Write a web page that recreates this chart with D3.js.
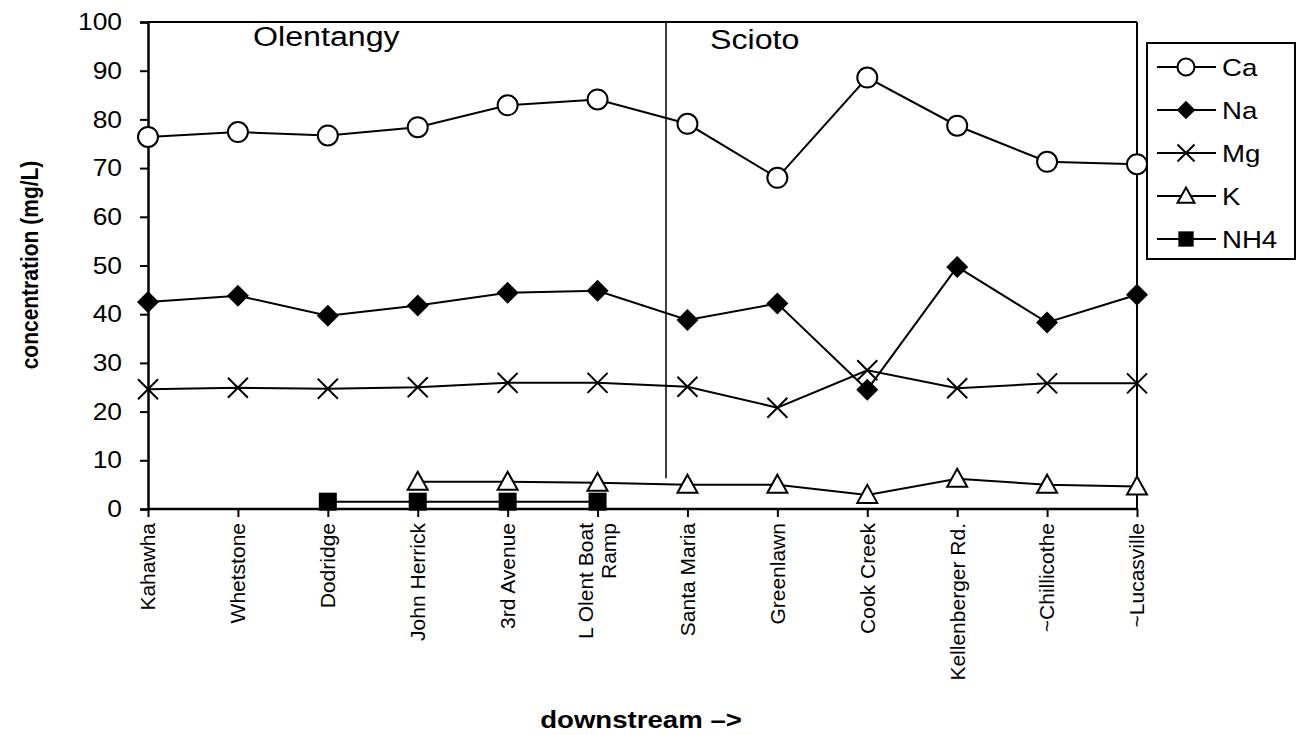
<!DOCTYPE html>
<html>
<head>
<meta charset="utf-8">
<script src="https://cdn.jsdelivr.net/npm/d3@7"></script>
<style>
  body { margin: 0; background: #fff; }
  text { font-family: "Liberation Sans", Arial, sans-serif; fill: #000; }
</style>
</head>
<body>
<svg id="chart" width="1298" height="735"></svg>
<script>
// sampling sites, upstream to downstream
const sites = ["Kahawha", "Whetstone", "Dodridge", "John Herrick", "3rd Avenue", "L Olent Boat Ramp",
  "Santa Maria", "Greenlawn", "Cook Creek", "Kellenberger Rd.", "~Chillicothe", "~Lucasville"];

const ca  = [76.4, 77.4, 76.7, 78.4, 82.9, 84.1, 79.1, 68.0, 88.6, 78.7, 71.3, 70.8];
const na  = [42.5, 43.8, 39.7, 41.8, 44.4, 44.8, 38.8, 42.2, 24.5, 49.7, 38.3, 44.0];
const mg  = [24.6, 24.9, 24.7, 25.0, 25.9, 25.9, 25.1, 20.8, 28.5, 24.8, 25.8, 25.8];
const k   = [null, null, null, 5.6, 5.6, 5.4, 5.0, 5.0, 2.9, 6.2, 5.0, 4.6];
const nh4 = [null, null, 1.5, 1.5, 1.5, 1.5, null, null, null, null, null, null];

const seriesNames = ["Ca", "Na", "Mg", "K", "NH4"];
const yTicks = [0, 10, 20, 30, 40, 50, 60, 70, 80, 90, 100];

const SX = 1.15; // picture is a little wider than tall

const svg = d3.select("#chart");
const plotL = 148, plotR = 1137, plotT = 22, plotB = 509;

const x = d3.scalePoint().domain(sites).range([plotL, plotR]);
const y = d3.scaleLinear().domain([0, 100]).range([plotB, plotT]);

const series = [
  {name: "Ca", values: ca, shape: "circle"},
  {name: "Na", values: na, shape: "diamond"},
  {name: "Mg", values: mg, shape: "cross"},
  {name: "K", values: k, shape: "triangle"},
  {name: "NH4", values: nh4, shape: "square"}
];

// frame
svg.append("line").attr("x1", plotL).attr("x2", plotR).attr("y1", plotT).attr("y2", plotT)
  .attr("stroke", "#000").attr("stroke-width", 2);
svg.append("line").attr("x1", plotR).attr("x2", plotR).attr("y1", plotT).attr("y2", plotB)
  .attr("stroke", "#000").attr("stroke-width", 2);

// y axis
const yAxis = svg.append("g").attr("transform", `translate(${plotL},0)`)
  .call(d3.axisLeft(y).tickValues(yTicks).tickSize(8));
yAxis.select(".domain").attr("stroke-width", 2.5);
yAxis.selectAll(".tick line").attr("stroke-width", 2);
yAxis.selectAll(".tick text").attr("font-size", 24)
  .attr("font-family", "Liberation Sans, Arial, sans-serif")
  .attr("transform", `scale(1.1,1)`)
  .attr("x", -26 / 1.1);

// x axis
const xAxis = svg.append("g").attr("transform", `translate(0,${plotB})`)
  .call(d3.axisBottom(x).tickSize(8).tickFormat(""));
xAxis.select(".domain").attr("stroke-width", 2.5).attr("d", `M${plotL},0H${plotR}`);
xAxis.selectAll(".tick line").attr("stroke-width", 2);

// category labels, rotated
sites.forEach(function(s) {
  const lines = s === "L Olent Boat Ramp" ? ["L Olent Boat", "Ramp"] : [s];
  lines.forEach(function(t, i) {
    const off = (i - (lines.length - 1) / 2) * 23;
    svg.append("text")
      .attr("transform", `translate(${x(s) + off},${plotB + 14}) rotate(-90)`)
      .attr("text-anchor", "end")
      .attr("dy", "0.35em")
      .attr("font-size", 21)
      .text(t);
  });
});

// river separator
svg.append("line").attr("x1", 666).attr("x2", 666).attr("y1", plotT).attr("y2", y(6.3))
  .attr("stroke", "#000").attr("stroke-width", 1.5);

function region(label, px, py) {
  svg.append("text").attr("transform", `translate(${px},${py}) scale(${SX},1)`)
    .attr("font-size", 28).text(label);
}
region("Olentangy", 253, 46);
region("Scioto", 710, 49);

// markers, k scales the size
function marker(g, shape, cx, cy, k) {
  if (shape === "circle") {
    g.append("circle").attr("cx", cx).attr("cy", cy).attr("r", 10 * k)
      .attr("fill", "#fff").attr("stroke", "#000").attr("stroke-width", 2);
  } else if (shape === "diamond") {
    const s = 11 * k;
    g.append("path").attr("d", `M${cx},${cy - s}L${cx + s},${cy}L${cx},${cy + s}L${cx - s},${cy}Z`)
      .attr("fill", "#000");
  } else if (shape === "cross") {
    const s = 10 * k;
    g.append("path").attr("d", `M${cx - s},${cy - s}L${cx + s},${cy + s}M${cx - s},${cy + s}L${cx + s},${cy - s}`)
      .attr("stroke", "#000").attr("stroke-width", 2);
  } else if (shape === "triangle") {
    const s = 10 * k;
    g.append("path").attr("d", `M${cx},${cy - s}L${cx + s},${cy + s * 0.8}L${cx - s},${cy + s * 0.8}Z`)
      .attr("fill", "#fff").attr("stroke", "#000").attr("stroke-width", 2);
  } else if (shape === "square") {
    const s = 9 * k;
    g.append("rect").attr("x", cx - s).attr("y", cy - s).attr("width", 2 * s).attr("height", 2 * s)
      .attr("fill", "#000");
  }
}

const line = d3.line()
  .defined(d => d.v !== null)
  .x(d => x(d.s))
  .y(d => y(d.v));

series.forEach(function(sr) {
  const pts = sites.map((s, i) => ({s: s, v: sr.values[i]}));
  const g = svg.append("g");
  g.append("path").datum(pts).attr("d", line)
    .attr("fill", "none").attr("stroke", "#000").attr("stroke-width", 2);
  pts.filter(d => d.v !== null).forEach(d => marker(g, sr.shape, x(d.s), y(d.v), 1));
});

// legend
const lg = svg.append("g");
lg.append("rect").attr("x", 1147).attr("y", 43).attr("width", 148).attr("height", 216)
  .attr("fill", "#fff").attr("stroke", "#000").attr("stroke-width", 2);
seriesNames.forEach(function(n, i) {
  const ly = 67 + i * 43;
  lg.append("line").attr("x1", 1157).attr("x2", 1216).attr("y1", ly).attr("y2", ly)
    .attr("stroke", "#000").attr("stroke-width", 2);
  marker(lg, series[i].shape, 1186, ly, 0.85);
  lg.append("text").attr("transform", `translate(1222,${ly}) scale(${SX},1)`)
    .attr("dy", "0.36em").attr("font-size", 24).text(n);
});

// axis titles
svg.append("text")
  .attr("transform", `translate(38,265) scale(1.1,1) rotate(-90)`)
  .attr("text-anchor", "middle").attr("font-size", 21).attr("font-weight", "bold")
  .text("concentration (mg/L)");
svg.append("text")
  .attr("transform", `translate(641,728) scale(${SX},1)`)
  .attr("text-anchor", "middle").attr("font-size", 24).attr("font-weight", "bold")
  .text("downstream \u2013>");
</script>
</body>
</html>
